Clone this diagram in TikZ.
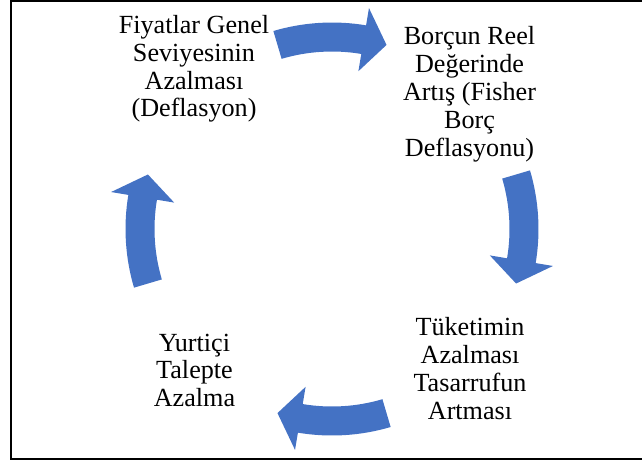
\documentclass[tikz,border=0pt]{standalone}
\usepackage{fontspec}
\setmainfont{Liberation Serif}
\usetikzlibrary{calc}
\definecolor{SmartArtBlue}{HTML}{4472C4}
\colorlet{ArrowFill}{SmartArtBlue}
\tikzset{
  CycleLabel/.style={
    align=center, inner sep=0pt, anchor=north,
    font=\fontsize{18.6}{19.8}\selectfont
  },
  CycleArrow/.style={fill=ArrowFill}
}

\begin{document}
\begin{tikzpicture}[x=0.025cm, y=0.025cm]
    \path[use as bounding box] (0,0) rectangle (642,-463);
    \draw[line width=1.4pt] (642,-1) -| (11,-459) -- (642,-459);
    \def\R{192}
    \def\Ws{14.5}
    \def\Wh{32}
    \coordinate (O) at (332,-229);
    \foreach \c in {90,0,-90,180}{
        \fill[CycleArrow] ($(O)+({\c+16.5}:{\R+\Ws})$) arc[start angle={\c+16.5}, end angle={\c-9.5}, radius={\R+\Ws}]
            -- ($(O)+({\c-9.5}:{\R+\Wh})$) -- ($(O)+({\c-16.5}:\R)$) -- ($(O)+({\c-9.5}:{\R-\Wh})$)
            -- ($(O)+({\c-9.5}:{\R-\Ws})$) arc[start angle={\c-9.5}, end angle={\c+16.5}, radius={\R-\Ws}] -- cycle;
    }
    \node[CycleLabel] (fiyat) at (194,-15) {Fiyatlar Genel\\Seviyesinin\\Azalması\\(Deflasyon)};
    \node[CycleLabel] (borc) at (469.5,-26.5) {Borçun Reel\\Değerinde\\Artış (Fisher\\Borç\\Deflasyonu)};
    \node[CycleLabel] (tuketim) at (470,-317.5) {Tüketimin\\Azalması\\Tasarrufun\\Artması};
    \node[CycleLabel] (talep) at (194.5,-333.5) {Yurtiçi\\Talepte\\Azalma};
\end{tikzpicture}
\end{document}
